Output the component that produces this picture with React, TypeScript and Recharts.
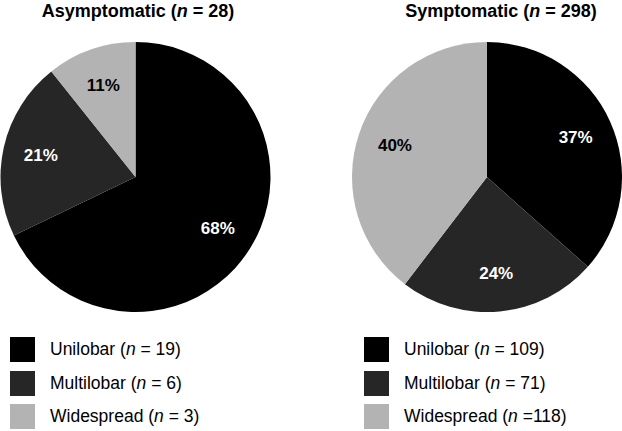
import React from 'react';
import { PieChart, Pie, Cell } from 'recharts';

const categories = ['Unilobar', 'Multilobar', 'Widespread'];
const asymptomaticCounts = [19, 6, 3];
const symptomaticCounts = [109, 71, 118];
const asymptomaticLabels = ['68%', '21%', '11%'];
const symptomaticLabels = ['37%', '24%', '40%'];
const legendCounts = {
  left: ['(n = 19)', '(n = 6)', '(n = 3)'],
  right: ['(n = 109)', '(n = 71)', '(n =118)'],
};

const COLORS = ['#000000', '#262626', '#b3b3b3'];
const LABEL_COLORS = ['#ffffff', '#ffffff', '#000000'];
const RADIAN = Math.PI / 180;
const FONT = 'Arial, "Liberation Sans", sans-serif';

const makeLabel = (labels: string[]) => (props: any) => {
  const { cx, cy, midAngle, outerRadius, index } = props;
  const r = outerRadius * 0.72;
  const x = cx + r * Math.cos(-midAngle * RADIAN);
  const y = cy + r * Math.sin(-midAngle * RADIAN);
  return (
    <text
      x={x}
      y={y}
      fill={LABEL_COLORS[index]}
      textAnchor="middle"
      dominantBaseline="central"
      fontFamily={FONT}
      fontWeight="bold"
      fontSize={17}
    >
      {labels[index]}
    </text>
  );
};

const toData = (counts: number[]) => categories.map((name, i) => ({ name, value: counts[i] }));

const Legend: React.FC<{ left: number; counts: string[] }> = ({ left, counts }) => (
  <div style={{ position: 'absolute', left, top: 333 }}>
    {categories.map((name, i) => {
      const [pre, rest] = counts[i].replace('(', '').split('n');
      return (
        <div key={name} style={{ display: 'flex', alignItems: 'center', height: 33.5 }}>
          <div style={{ width: 25, height: 25, background: COLORS[i], marginRight: 15 }} />
          <span style={{ fontFamily: FONT, fontSize: 17.5, color: '#000', whiteSpace: 'pre' }}>
            {name} ({pre}<i>n</i>{rest}
          </span>
        </div>
      );
    })}
  </div>
);

const Title: React.FC<{ center: number; label: string; n: number }> = ({ center, label, n }) => (
  <div
    style={{
      position: 'absolute',
      left: center - 150,
      width: 300,
      top: -1,
      textAlign: 'center',
      fontFamily: FONT,
      fontWeight: 'bold',
      fontSize: 18,
      lineHeight: '24px',
    }}
  >
    {label} (<i>n</i> = {n})
  </div>
);

export default function App() {
  return (
    <div style={{ position: 'absolute', left: 0, top: 0, width: 622, height: 431, background: '#fff' }}>
      <PieChart
        width={622}
        height={431}
        margin={{ top: 0, right: 0, bottom: 0, left: 0 }}
        style={{ position: 'absolute', left: 0, top: 0 }}
      >
        <Pie
          data={toData(asymptomaticCounts)}
          dataKey="value"
          cx={135.5}
          cy={177}
          outerRadius={135}
          startAngle={90}
          endAngle={-270}
          stroke="none"
          labelLine={false}
          label={makeLabel(asymptomaticLabels)}
          isAnimationActive={false}
        >
          {COLORS.map((c, i) => (
            <Cell key={i} fill={c} />
          ))}
        </Pie>
        <Pie
          data={toData(symptomaticCounts)}
          dataKey="value"
          cx={487}
          cy={177}
          outerRadius={135}
          startAngle={90}
          endAngle={-270}
          stroke="none"
          labelLine={false}
          label={makeLabel(symptomaticLabels)}
          isAnimationActive={false}
        >
          {COLORS.map((c, i) => (
            <Cell key={i} fill={c} />
          ))}
        </Pie>
      </PieChart>
      <Title center={138} label="Asymptomatic" n={28} />
      <Title center={501} label="Symptomatic" n={298} />
      <Legend left={10} counts={legendCounts.left} />
      <Legend left={364} counts={legendCounts.right} />
    </div>
  );
}
